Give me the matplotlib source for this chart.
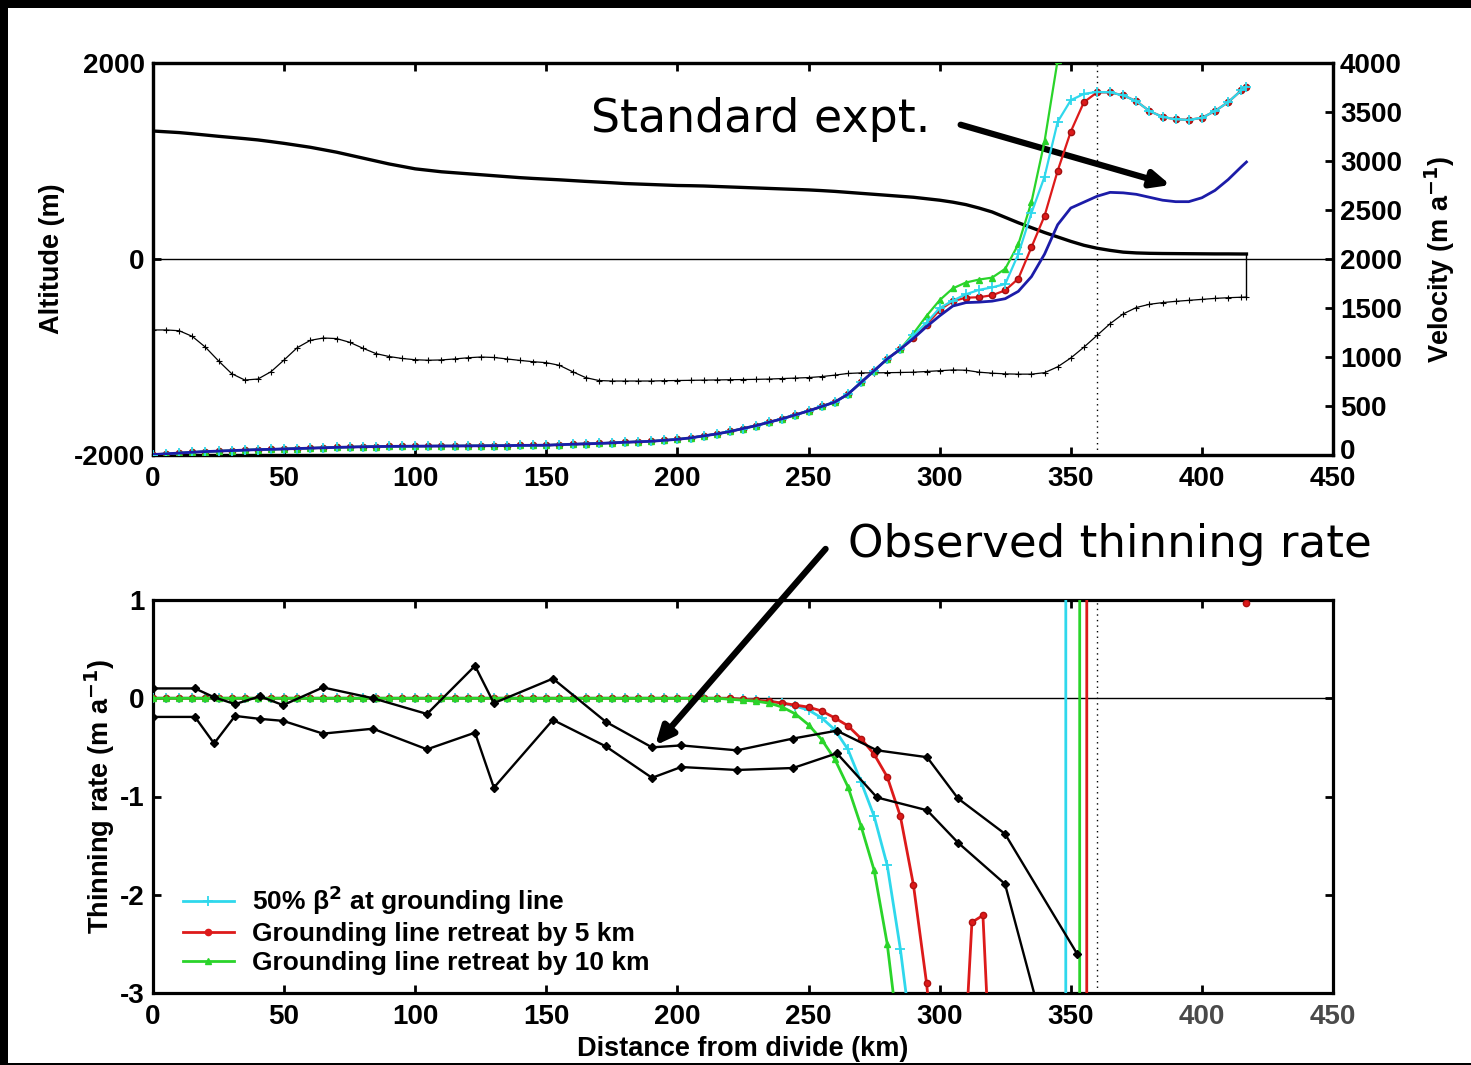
import numpy as np
import matplotlib
matplotlib.use("Agg")
import matplotlib.pyplot as plt
from matplotlib.patches import Rectangle
from matplotlib.lines import Line2D
from matplotlib.transforms import ScaledTranslation

W, H, DPI = 1471, 1065, 100

# ---------------------------------------------------------------- data
# Flowline grid (km from the ice divide), 5 km spacing to the ice front
km = np.append(np.arange(0, 416, 5), 417)

surface = [1306, 1298, 1290, 1278, 1265, 1252, 1240, 1228, 1215, 1198,
           1180, 1160, 1140, 1115, 1090, 1060, 1030, 1000, 970, 945,
           920, 905, 890, 880, 870, 860, 850, 840, 830, 822,
           815, 808, 800, 792, 785, 778, 770, 765, 760, 755,
           750, 748, 745, 740, 735, 730, 725, 720, 715, 710,
           705, 698, 690, 680, 670, 660, 650, 640, 630, 615,
           600, 580, 555, 520, 480, 425, 370, 320, 270, 225,
           180, 140, 110, 88, 70, 62, 58, 56, 55, 54,
           53, 52, 52, 51, 51]

bed = [-724, -724, -732, -790, -900, -1040, -1170, -1235, -1225, -1150,
       -1030, -905, -830, -806, -812, -850, -910, -965, -995, -1015,
       -1028, -1033, -1030, -1020, -1008, -1000, -1005, -1020, -1035, -1048,
       -1058, -1085, -1150, -1210, -1240, -1245, -1245, -1245, -1245, -1242,
       -1240, -1238, -1236, -1234, -1232, -1230, -1228, -1225, -1220, -1215,
       -1210, -1200, -1185, -1168, -1162, -1162, -1160, -1158, -1155, -1148,
       -1140, -1132, -1135, -1155, -1165, -1172, -1175, -1175, -1160, -1100,
       -1010, -900, -780, -660, -560, -495, -462, -445, -432, -422,
       -412, -402, -395, -390, -388]

# Velocity, shared by all runs from 0 to 285 km
vel_common = [5, 12, 20, 28, 35, 40, 45, 50, 55, 58,
              62, 66, 70, 74, 78, 81, 84, 86, 88, 89,
              90, 91, 92, 92, 93, 94, 95, 96, 98, 99,
              100, 105, 110, 114, 118, 124, 130, 135, 140, 150,
              160, 175, 195, 215, 240, 270, 300, 335, 370, 410,
              450, 495, 540, 620, 740, 860, 980, 1080]

# Velocity downstream of 285 km for each run
vel_std_tail = [1190, 1310, 1420, 1520, 1555, 1560, 1570, 1595, 1670, 1820,
                2050, 2350, 2520, 2580, 2640, 2680, 2675, 2660, 2630, 2600,
                2585, 2585, 2625, 2700, 2810, 2940, 2990]
vel_beta_tail = [1220, 1350, 1500, 1575, 1640, 1685, 1710, 1745, 2050, 2470,
                 2840, 3400, 3620, 3685, 3705, 3700, 3670, 3610, 3510, 3450,
                 3425, 3420, 3440, 3510, 3600, 3720, 3760]
vel_gl5_tail = [1190, 1330, 1480, 1570, 1605, 1610, 1630, 1680, 1800, 2120,
                2440, 2900, 3300, 3600, 3700, 3700, 3670, 3610, 3510, 3450,
                3425, 3420, 3440, 3510, 3600, 3720, 3760]
vel_gl10_tail = [1240, 1420, 1580, 1700, 1760, 1790, 1810, 1900, 2150, 2580,
                 3200, 4030]

# Modelled thinning rate (m/a); zero upstream of 220 km
thin_flat_km = np.arange(0, 220, 5)
thin_beta_km = [220, 225, 230, 235, 240, 245, 250, 255, 260, 265, 270, 275,
                280, 285, 290, 295, 348.0, 348.2, 360]
thin_beta = [0.0, -0.01, -0.02, -0.03, -0.05, -0.08, -0.12, -0.20, -0.32,
             -0.52, -0.85, -1.20, -1.70, -2.55, -3.60, -5.0, -30, 30, 30]
thin_gl5_km = [220, 225, 230, 235, 240, 245, 250, 255, 260, 265, 270, 275,
               280, 285, 290, 295, 300, 305, 309, 312.3, 316.5, 319.5, 325,
               356.0, 356.2, 360, np.nan, 417]
thin_gl5 = [0.0, -0.01, -0.02, -0.03, -0.05, -0.07, -0.09, -0.13, -0.20,
            -0.28, -0.41, -0.57, -0.80, -1.20, -1.90, -2.90, -4.20, -5.0,
            -3.9, -2.28, -2.21, -3.9, -5.0, -30, 30, 30, np.nan, 0.97]
thin_gl10_km = [220, 225, 230, 235, 240, 245, 250, 255, 260, 265, 270, 275,
                280, 285, 290, 353.3, 353.5, 360]
thin_gl10 = [-0.01, -0.02, -0.03, -0.05, -0.09, -0.16, -0.27, -0.42, -0.62,
             -0.90, -1.30, -1.75, -2.50, -3.60, -5.0, -30, 30, 30]

# Observed thinning rate: two bounding profiles
obs_km = [0, 16.0, 23.3, 31.3, 40.8, 49.6, 64.8, 83.9, 104.5, 122.8, 130.0,
          152.5, 172.7, 190.3, 201.4, 222.7, 244.1, 260.8, 276.1, 295.2,
          307.0, 324.9]
obs_upper = [0.10, 0.10, 0.01, -0.06, 0.02, -0.07, 0.11, 0.0, -0.16, 0.33,
             -0.05, 0.20, -0.24, -0.50, -0.48, -0.53, -0.41, -0.33, -0.53,
             -0.60, -1.02, -1.38]
obs_upper_end_km, obs_upper_end = 352.4, -2.60
obs_lower = [-0.19, -0.19, -0.46, -0.18, -0.21, -0.23, -0.36, -0.31, -0.52,
             -0.35, -0.91, -0.22, -0.49, -0.81, -0.70, -0.73, -0.71, -0.56,
             -1.01, -1.14, -1.47, -1.89]
obs_lower_end_km, obs_lower_end = 341.0, -3.5

front_km = 417
gl_km = 360

legend_labels = ["50% \u03b2$^{2}$ at grounding line",
                 "Grounding line retreat by 5 km",
                 "Grounding line retreat by 10 km"]

# ---------------------------------------------------------------- style
C_CYAN = "#2fd8ec"
C_RED = "#dd1a1a"
C_GREEN = "#2ad42a"
C_BLUE = "#1c1ca8"

plt.rcParams["font.family"] = ["Liberation Sans", "DejaVu Sans"]
plt.rcParams["font.weight"] = "bold"
plt.rcParams["mathtext.default"] = "bf"
plt.rcParams["axes.unicode_minus"] = False
TICK_FS = 20
LABEL_FS = 19.5

fig = plt.figure(figsize=(W / DPI, H / DPI), dpi=DPI, facecolor="black")
fig.patches.append(Rectangle((8 / W, 2 / H), (W - 8) / W, (H - 10) / H,
                             transform=fig.transFigure, facecolor="white",
                             edgecolor="none", zorder=-10))

ax_l, ax_w = 153 / W, 1180 / W
ax1 = fig.add_axes([ax_l, 1 - 455 / H, ax_w, 392 / H])
ax3 = fig.add_axes([ax_l, 1 - 993 / H, ax_w, 393 / H])


def style_axes(ax, right=True):
    for s in ax.spines.values():
        s.set_linewidth(2.3)
    ax.tick_params(direction="in", length=6, width=2, labelsize=TICK_FS,
                   top=True, right=right, pad=6)
    ax.tick_params(axis="x", pad=8)


# ---------------------------------------------------------------- top panel
vel_std = vel_common + vel_std_tail
vel_beta = vel_common + vel_beta_tail
vel_gl5 = vel_common + vel_gl5_tail
vel_gl10 = vel_common + vel_gl10_tail

ax1.axhline(0, color="black", lw=1.0, zorder=2)
ax1.axvline(gl_km, color="black", lw=1.0, ls=(0, (1, 3)), zorder=2)
ax1.plot(km, surface, color="black", lw=2.4, zorder=4)
ax1.plot(km, bed, color="black", lw=0.9, marker="+", ms=4, mew=0.8, zorder=4)
ax1.plot([front_km, front_km], [surface[-1], bed[-1]], color="black", lw=1.0,
         zorder=4)
ax1.set_xlim(0, 450)
ax1.set_ylim(-2000, 2000)
ax1.set_xticks(np.arange(0, 451, 50))
ax1.set_yticks([-2000, 0, 2000])
ax1.set_ylabel("Altitude (m)", fontsize=LABEL_FS, fontweight="bold",
               labelpad=6)
style_axes(ax1, right=False)

ax2 = ax1.twinx()
ax2.set_ylim(0, 4000)
ax2.set_yticks(np.arange(0, 4001, 500))
n_red = len(vel_gl5)
ax2.plot(km[:n_red], vel_gl5, color=C_RED, lw=1.6, marker="o", ms=4.5,
         mec="#a01010", zorder=3)
ax2.plot(km[:len(vel_gl10)], vel_gl10, color=C_GREEN, lw=1.6, marker="^",
         ms=4.5, zorder=3)
ax2.plot(km[:len(vel_beta)], vel_beta, color=C_CYAN, lw=1.6, marker="+",
         ms=7, mew=1.3, zorder=4)
ax2.plot(km[:len(vel_std)], vel_std, color=C_BLUE, lw=2.0, zorder=5)
ax2.set_ylabel("Velocity (m a$^{-1}$)", fontsize=LABEL_FS, fontweight="bold",
               labelpad=15)
for s in ax2.spines.values():
    s.set_linewidth(2.3)
ax2.tick_params(direction="in", length=6, width=2, labelsize=TICK_FS, pad=5)
# lift the lowest velocity label a little so it clears the "450" below it
zero_lbl = ax2.yaxis.get_major_ticks()[0].label2
zero_lbl.set_transform(zero_lbl.get_transform() +
                       ScaledTranslation(0, 4 / 72, fig.dpi_scale_trans))

ax1.text(167, 1420, "Standard expt.", fontsize=33, family="DejaVu Sans",
         fontweight="normal", va="center", ha="left", zorder=10)
ax1.annotate("", xy=(388, 755), xytext=(308, 1370),
             arrowprops=dict(arrowstyle="-|>,head_length=1.1,head_width=0.5",
                             color="black", lw=4.5, shrinkA=0, shrinkB=0),
             zorder=10)

# ---------------------------------------------------------------- bottom panel
ax3.axhline(0, color="black", lw=1.0, zorder=2)
ax3.axvline(gl_km, color="black", lw=1.0, ls=(0, (1, 3)), zorder=2)

flat = np.zeros(len(thin_flat_km))
kb = np.concatenate([thin_flat_km, thin_beta_km])
k5 = np.concatenate([thin_flat_km, thin_gl5_km])
k10 = np.concatenate([thin_flat_km, thin_gl10_km])
ax3.plot(kb, np.concatenate([flat, thin_beta]), color=C_CYAN,
         lw=2.0, marker="+", ms=7, mew=1.3, zorder=3)
ax3.plot(k5, np.concatenate([flat, thin_gl5]), color=C_RED, lw=2.0,
         marker="o", ms=4.5, mec="#b01010", zorder=3)
ax3.plot(k10, np.concatenate([flat, thin_gl10]), color=C_GREEN,
         lw=2.0, marker="^", ms=4.5, zorder=4)

ax3.plot(obs_km + [obs_upper_end_km], obs_upper + [obs_upper_end],
         color="black", lw=1.7, marker="D", ms=4.5, zorder=6)
ax3.plot(obs_km + [obs_lower_end_km], obs_lower + [obs_lower_end],
         color="black", lw=1.7, marker="D", ms=4.5, zorder=6)

ax3.set_xlim(0, 450)
ax3.set_ylim(-3, 1)
ax3.set_xticks(np.arange(0, 451, 50))
ax3.set_yticks([-3, -2, -1, 0, 1])
ax3.set_xlabel("Distance from divide (km)", fontsize=LABEL_FS,
               fontweight="bold", labelpad=4)
ax3.set_ylabel("Thinning rate (m a$^{-1}$)", fontsize=LABEL_FS,
               fontweight="bold", labelpad=2)
style_axes(ax3)
for lbl in ax3.get_xticklabels()[-2:]:
    lbl.set_color("#4a4a4a")

handles = [Line2D([], [], color=C_CYAN, lw=2.0, marker="+", ms=7, mew=1.3),
           Line2D([], [], color=C_RED, lw=2.0, marker="o", ms=4.5),
           Line2D([], [], color=C_GREEN, lw=2.0, marker="^", ms=4.5)]
leg = ax3.legend(handles, legend_labels, loc="lower left",
                 bbox_to_anchor=(0.025, 0.045), borderaxespad=0, borderpad=0,
                 frameon=False, fontsize=19, handlelength=1.95,
                 handletextpad=0.68, labelspacing=0.2, numpoints=1)
for t in leg.get_texts():
    t.set_fontweight("bold")

ax3.text(265, 1.56, "Observed thinning rate", fontsize=32.5,
         family="DejaVu Sans", fontweight="normal", va="center", ha="left",
         zorder=10, clip_on=False)
ax3.annotate("", xy=(191.5, -0.48), xytext=(256.5, 1.52),
             arrowprops=dict(arrowstyle="-|>,head_length=1.1,head_width=0.5",
                             color="black", lw=4.5, shrinkA=0, shrinkB=0),
             annotation_clip=False, zorder=10)

fig.savefig("out.png", dpi=DPI, facecolor=fig.get_facecolor())
